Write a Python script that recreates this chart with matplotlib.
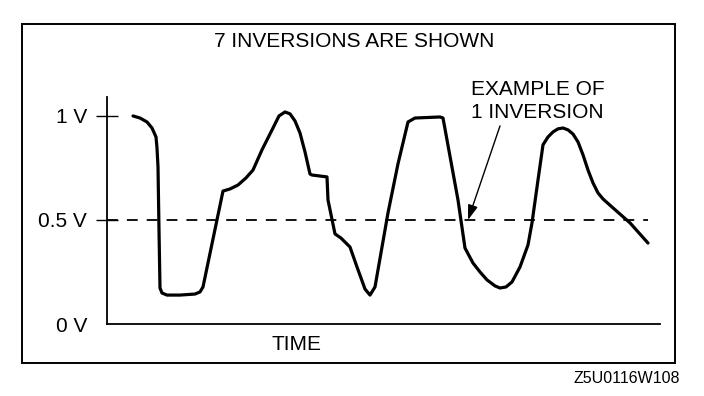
import matplotlib
matplotlib.use("Agg")
import matplotlib.pyplot as plt
from matplotlib.patches import Rectangle

plt.rcParams['font.family'] = ['Liberation Sans', 'DejaVu Sans']

# Sensor voltage trace (time in arbitrary units, voltage in V)
time = [26, 33, 40, 45, 49, 50, 51, 52, 53, 55, 60, 73, 88, 93, 96,
        116, 123, 131, 139, 146, 155, 166, 172, 178, 183, 188, 193, 198, 203,
        205, 220, 221, 228, 234, 243, 250, 258, 263, 268, 281, 291, 301, 308,
        333, 336, 351, 358, 366, 373, 380, 388, 393, 399, 405, 413, 421, 425,
        431, 436, 441, 446, 451, 456, 461, 466, 471, 476, 481, 486, 491, 496,
        506, 523, 541]
volts = [1.000, 0.990, 0.971, 0.942, 0.899, 0.846, 0.755, 0.452, 0.173, 0.149,
         0.139, 0.139, 0.144, 0.154, 0.178,
         0.639, 0.649, 0.668, 0.702, 0.740, 0.837, 0.942, 1.000, 1.019, 1.010,
         0.976, 0.918, 0.827, 0.721,
         0.716, 0.707, 0.596, 0.433, 0.413, 0.370, 0.274, 0.168, 0.139, 0.178,
         0.534, 0.770, 0.971, 0.990,
         0.995, 0.990, 0.596, 0.365, 0.293, 0.250, 0.212, 0.183, 0.173, 0.178,
         0.202, 0.274, 0.380, 0.486,
         0.692, 0.861, 0.899, 0.923, 0.938, 0.942, 0.933, 0.913, 0.875, 0.813,
         0.740, 0.678, 0.630, 0.601,
         0.558, 0.486, 0.389]

ytick_vals = [0, 0.5, 1.0]
ytick_labels = ["0 V", "0.5 V", "1 V"]
threshold = 0.5
threshold_end = 541
arrow_tip = (361, 0.5)
arrow_tail = (393, 0.952)

W, H = 704, 396
fig = plt.figure(figsize=(W / 100, H / 100), dpi=100)
fig.patch.set_facecolor("white")

def fx(px):
    return px / W

def fy(py):
    return 1 - py / H

ax = fig.add_axes([fx(107), fy(324), fx(660) - fx(107), fy(97) - fy(324)])
ax.set_xlim(0, 553)
ax.set_ylim(0, 1.091)

ax.plot(time, volts, color="black", lw=2.3, solid_joinstyle="round",
        solid_capstyle="round")
ax.plot([0, threshold_end], [threshold, threshold], color="black", lw=1.3,
        dashes=(6, 5))

for s in ["top", "right"]:
    ax.spines[s].set_visible(False)
for s in ["left", "bottom"]:
    ax.spines[s].set_linewidth(1.3)

ax.set_xticks([])
ax.set_yticks(ytick_vals)
ax.set_yticklabels(ytick_labels, fontsize=15)
ax.tick_params(axis="y", direction="inout", length=16, width=1.0, pad=6.4)
ax.yaxis.get_major_ticks()[0].tick1line.set_visible(False)

ax.annotate("", xy=arrow_tip, xytext=arrow_tail,
            arrowprops=dict(arrowstyle="-|>,head_length=0.9,head_width=0.3",
                            color="black", lw=1.0, shrinkA=0, shrinkB=0))

fig.text(fx(354), fy(47), "7 INVERSIONS ARE SHOWN", fontsize=15,
         ha="center", va="baseline")
fig.text(fx(471), fy(95), "EXAMPLE OF", fontsize=15, ha="left", va="baseline")
fig.text(fx(471), fy(118), "1 INVERSION", fontsize=15, ha="left", va="baseline")
fig.text(fx(297), fy(350), "TIME", fontsize=15, ha="center", va="baseline")
fig.text(fx(680), fy(383), "Z5U0116W108", fontsize=11.5, ha="right",
         va="baseline")

fig.add_artist(Rectangle((fx(22), fy(363)), fx(675) - fx(22), fy(24) - fy(363),
                         transform=fig.transFigure, fill=False,
                         edgecolor="black", lw=1.4))

fig.savefig("out.png", dpi=100)
